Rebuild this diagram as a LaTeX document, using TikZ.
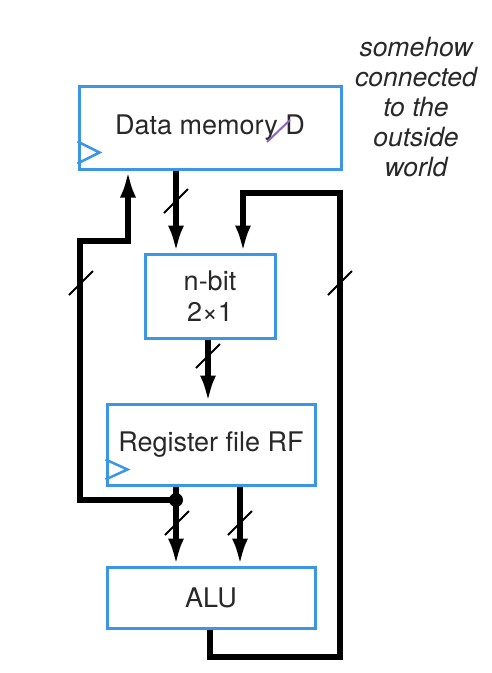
\documentclass[tikz,border=0pt]{standalone}
\usepackage{fontspec}
\setmainfont{TeX Gyre Heros}
\usetikzlibrary{arrows.meta}
\definecolor{boxblue}{RGB}{60,150,230}
\definecolor{txt}{RGB}{40,40,40}
\definecolor{mark}{RGB}{140,100,200}
\tikzset{
  blk/.style={draw=boxblue, line width=3pt, fill=white, text=txt,
    font=\fontsize{27}{31}\selectfont, align=center, inner sep=0pt},
  wire/.style={line width=5.5pt, line join=miter, draw=black},
  arr/.style={-{Latex[length=27pt,width=16pt]}},
  busmark/.style={line width=2pt, draw=black},
  clk/.style={draw=boxblue, line width=2.5pt},
}
\begin{document}
\begin{tikzpicture}[x=1pt,y=-1pt]
\useasboundingbox (0,0) rectangle (491,673);
\fill[white] (0,0) rectangle (491,673);

% blocks
\node[blk, minimum width=262pt, minimum height=83pt] (dm) at (210,127.5) {Data memory D};
\node[blk, minimum width=130pt, minimum height=84pt] (mux) at (210,296) {n-bit\\2×1};
\node[blk, minimum width=208pt, minimum height=81pt] (rf) at (211,444.5) {Register file RF};
\node[blk, minimum width=208pt, minimum height=61pt] (alu) at (211,597.5) {ALU};

% clock triangles
\draw[clk] (dm.south west) ++(0,-7) -- ++(22,-11) -- ++(-22,-11);
\draw[clk] (rf.south west) ++(0,-7) -- ++(22,-10) -- ++(-22,-10);

% purple annotation stroke
\draw[line width=2pt, draw=mark] (267,142) -- (290,120);

% annotation text
\node[font=\itshape\fontsize{26.5}{30}\selectfont, text=txt, align=center] (note) at (416,107)
  {somehow\\connected\\to the\\outside\\world};

% junction
\coordinate (j) at (176,500);

% wires
\draw[wire,arr] (176,0 |- dm.south) -- (176,0 |- mux.north);
\draw[wire,arr] (210,0 |- alu.south) -- (210,657) -- (340,657) -- (340,193) -- (243,193) -- (243,0 |- mux.north);
\draw[wire,arr] (208,0 |- mux.south) -- (208,0 |- rf.north);
\draw[wire,arr] (176,0 |- rf.south) -- (176,0 |- alu.north);
\draw[wire,arr] (240,0 |- rf.south) -- (240,0 |- alu.north);
\draw[wire,arr] (j) -- (80,500) -- (80,241) -- (128,241) -- (128,0 |- dm.south);
\fill (j) circle (7pt);

% bus width marks
\foreach \p in {(176,201),(208,356),(177,523),(240,523),(81,283),(340,283)}
  \draw[busmark] \p ++(-12,12) -- ++(24,-24);
\end{tikzpicture}
\end{document}
